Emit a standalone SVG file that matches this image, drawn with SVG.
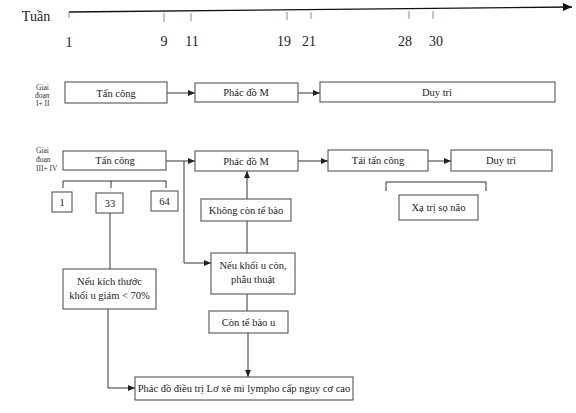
<svg xmlns="http://www.w3.org/2000/svg" width="576" height="413" viewBox="0 0 576 413">
<defs>
<marker id="ah" markerWidth="8" markerHeight="8" refX="7" refY="4" orient="auto" markerUnits="userSpaceOnUse">
<path d="M0,1 L7,4 L0,7 Z" fill="#222"/>
</marker>
<marker id="ahbig" markerWidth="10" markerHeight="10" refX="9" refY="5" orient="auto" markerUnits="userSpaceOnUse">
<path d="M0,1 L9,5 L0,9 Z" fill="#111"/>
</marker>
<style>
.box{fill:#fff;stroke:#555;stroke-width:1.1}
text{font-family:'Liberation Serif','DejaVu Serif',serif}
.t{font-size:10.5px;fill:#222;text-anchor:middle}
.tl{font-size:14px;fill:#222;text-anchor:middle}
.sm{font-size:7.5px;fill:#333}
.ln{fill:none;stroke:#333;stroke-width:1}
.tick{stroke:#7a8bb0;stroke-width:1}
</style>
</defs>
<rect width="576" height="413" fill="#fff"/>

<g id="timeline" font-family="Liberation Serif">
<line x1="69" y1="12" x2="572" y2="7" stroke="#111" stroke-width="1.4" marker-end="url(#ahbig)"/>
<line class="tick" x1="69" y1="12" x2="69" y2="18" stroke="#999"/>
<line class="tick" x1="164" y1="13" x2="164" y2="22"/>
<line class="tick" x1="191" y1="13" x2="191" y2="21"/>
<line class="tick" x1="287" y1="12" x2="287" y2="20"/>
<line class="tick" x1="311" y1="12" x2="311" y2="19"/>
<line class="tick" x1="409" y1="11" x2="409" y2="19"/>
<line class="tick" x1="433" y1="11" x2="433" y2="19"/>
<text class="tl" x="36" y="21">Tuần</text>
<text class="tl" x="69" y="47">1</text>
<text class="tl" x="164" y="46">9</text>
<text class="tl" x="192" y="46">11</text>
<text class="tl" x="284" y="46">19</text>
<text class="tl" x="309" y="46">21</text>
<text class="tl" x="405" y="46">28</text>
<text class="tl" x="436" y="46">30</text>
</g>

<g id="label-stage1">
<text class="sm" x="36" y="90">Giai</text>
<text class="sm" x="35" y="98">đoạn</text>
<text class="sm" x="36" y="106">I+ II</text>
</g>
<g id="label-stage2">
<text class="sm" x="36" y="153">Giai</text>
<text class="sm" x="36" y="162">đoạn</text>
<text class="sm" x="36" y="171">III+ IV</text>
</g>

<g id="connectors">
<line class="ln" x1="167" y1="93" x2="195" y2="93" marker-end="url(#ah)"/>
<line class="ln" x1="298" y1="93" x2="320" y2="93" marker-end="url(#ah)"/>
<line class="ln" x1="166" y1="161" x2="195" y2="161" marker-end="url(#ah)"/>
<line class="ln" x1="298" y1="161" x2="328" y2="161" marker-end="url(#ah)"/>
<line class="ln" x1="428" y1="161" x2="451" y2="161" marker-end="url(#ah)"/>
<polyline class="ln" points="184,161 184,263 211,263" marker-end="url(#ah)"/>
<line class="ln" x1="247" y1="199" x2="247" y2="171" marker-end="url(#ah)"/>
<line class="ln" x1="247" y1="221" x2="247" y2="253"/>
<line class="ln" x1="247" y1="294" x2="247" y2="311"/>
<line class="ln" x1="248" y1="333" x2="248" y2="377" marker-end="url(#ah)"/>
<polyline class="ln" points="63,188 63,181 166,181 166,188"/>
<line class="ln" x1="111" y1="181" x2="111" y2="188"/>
<line class="ln" x1="110" y1="213" x2="110" y2="269"/>
<polyline class="ln" points="108,309 108,388 135,388" marker-end="url(#ah)"/>
<polyline class="ln" points="386,191 386,182 486,182 486,191"/>
</g>

<g id="n-tancong1"><rect class="box" x="65" y="82" width="102" height="21"/><text class="t" x="116" y="96.5">Tấn công</text></g>
<g id="n-phacdoM1"><rect class="box" x="195" y="83" width="103" height="19"/><text class="t" x="246" y="96">Phác đồ M</text></g>
<g id="n-duytri1"><rect class="box" x="320" y="82" width="235" height="20"/><text class="t" x="437" y="95.5">Duy trì</text></g>

<g id="n-tancong2"><rect class="box" x="63" y="151" width="103" height="19"/><text class="t" x="115" y="164">Tấn công</text></g>
<g id="n-phacdoM2"><rect class="box" x="195" y="151" width="103" height="20"/><text class="t" x="246" y="164.5">Phác đồ M</text></g>
<g id="n-taitancong"><rect class="box" x="328" y="150" width="100" height="21"/><text class="t" x="378" y="164">Tái tấn công</text></g>
<g id="n-duytri2"><rect class="box" x="451" y="150" width="101" height="21"/><text class="t" x="501" y="164">Duy trì</text></g>

<g id="n-1"><rect class="box" x="52" y="192" width="20" height="20"/><text class="t" x="62" y="205.5">1</text></g>
<g id="n-33"><rect class="box" x="96" y="193" width="27" height="20"/><text class="t" x="110" y="206.5">33</text></g>
<g id="n-64"><rect class="box" x="151" y="191" width="27" height="20"/><text class="t" x="164.5" y="204.5">64</text></g>

<g id="n-khongcon"><rect class="box" x="201" y="199" width="90" height="22"/><text class="t" x="246" y="213.5">Không còn tế bào</text></g>
<g id="n-xatri"><rect class="box" x="399" y="195" width="79" height="25"/><text class="t" x="438.5" y="211">Xạ trị sọ não</text></g>

<g id="n-neukhoiu"><rect class="box" x="211" y="253" width="84" height="41"/><text class="t" x="253" y="269">Nếu khối u còn,</text><text class="t" x="253" y="283">phẫu thuật</text></g>
<g id="n-neukichthuoc"><rect class="box" x="63" y="269" width="93" height="40"/><text class="t" x="109.5" y="284.5">Nếu kích thước</text><text class="t" x="109.5" y="299">khối u giảm &lt; 70%</text></g>
<g id="n-conteabao"><rect class="box" x="209" y="311" width="79" height="22"/><text class="t" x="248.5" y="325.5">Còn tế bào u</text></g>
<g id="n-phacdo-final"><rect class="box" x="135" y="377" width="218" height="23"/><text class="t" x="244" y="392">Phác đồ điều trị Lơ xê mi lympho cấp nguy cơ cao</text></g>
</svg>
